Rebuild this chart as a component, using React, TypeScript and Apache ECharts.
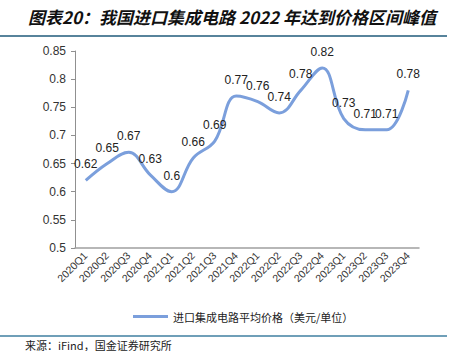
import React, { useEffect, useRef } from "react";
import * as echarts from "echarts";

const categories = [
  "2020Q1", "2020Q2", "2020Q3", "2020Q4",
  "2021Q1", "2021Q2", "2021Q3", "2021Q4",
  "2022Q1", "2022Q2", "2022Q3", "2022Q4",
  "2023Q1", "2023Q2", "2023Q3", "2023Q4",
];
const prices = [0.62, 0.65, 0.67, 0.63, 0.6, 0.66, 0.69, 0.77, 0.76, 0.74, 0.78, 0.82, 0.73, 0.71, 0.71, 0.78];
const seriesName = "进口集成电路平均价格（美元/单位）";
const titleText = "图表20：我国进口集成电路 2022 年达到价格区间峰值";
const sourceText = "来源：iFind，国金证券研究所";

export default function App() {
  const ref = useRef<HTMLDivElement>(null);
  useEffect(() => {
    if (!ref.current) return;
    const chart = echarts.init(ref.current, null, { renderer: "svg" });
    chart.setOption({
      animation: false,
      backgroundColor: "#ffffff",
      textStyle: { fontFamily: "Liberation Sans, Arial, Noto Sans CJK SC" },
      grid: { left: 75, right: 39, top: 51, bottom: 103 },
      legend: {
        left: 128,
        top: 306,
        itemWidth: 35,
        itemHeight: 3,
        icon: "rect",
        itemGap: 4,
        textStyle: { fontSize: 11, color: "#222", fontFamily: "Noto Sans CJK SC" },
        data: [seriesName],
      },
      xAxis: {
        type: "category",
        data: categories,
        boundaryGap: true,
        axisLine: { lineStyle: { color: "#a0a0a0", width: 1.5 } },
        axisTick: { show: false },
        axisLabel: { rotate: 45, fontSize: 10.5, color: "#333", margin: 6, interval: 0 },
      },
      yAxis: {
        type: "value",
        min: 0.5,
        max: 0.85,
        interval: 0.05,
        axisLine: { show: true, lineStyle: { color: "#909090" } },
        axisTick: { show: true, length: 4, lineStyle: { color: "#909090" } },
        splitLine: { show: false },
        axisLabel: { fontSize: 12, color: "#333", margin: 9 },
      },
      series: [
        {
          name: seriesName,
          type: "line",
          data: prices,
          smooth: 0.4,
          symbol: "circle",
          symbolSize: 0,
          showSymbol: true,
          lineStyle: { color: "#7b9fdc", width: 3 },
          itemStyle: { color: "#7b9fdc" },
          label: { show: true, position: "top", distance: 10, fontSize: 12, color: "#222" },
        },
      ],
      graphic: [
        {
          type: "text",
          left: 28,
          top: 8,
          style: {
            text: titleText,
            fontSize: 17,
            fontWeight: "bold",
            fontStyle: "italic",
            fill: "#111",
            fontFamily: "Noto Sans CJK SC",
          },
        },
        {
          type: "line",
          shape: { x1: 0, y1: 36, x2: 447, y2: 36 },
          style: { stroke: "#1f5a7a", lineWidth: 1.5 },
        },
        {
          type: "line",
          shape: { x1: 0, y1: 336, x2: 447, y2: 336 },
          style: { stroke: "#3f7fa0", lineWidth: 1.5 },
        },
        {
          type: "text",
          left: 25,
          top: 339,
          style: {
            text: sourceText,
            fontSize: 11,
            lineHeight: 11,
            fill: "#222",
            fontFamily: "Noto Sans CJK SC",
          },
        },
      ],
    });
    return () => chart.dispose();
  }, []);
  return (
    <div
      ref={ref}
      style={{ position: "fixed", left: 0, top: 0, width: 458, height: 351 }}
    />
  );
}
